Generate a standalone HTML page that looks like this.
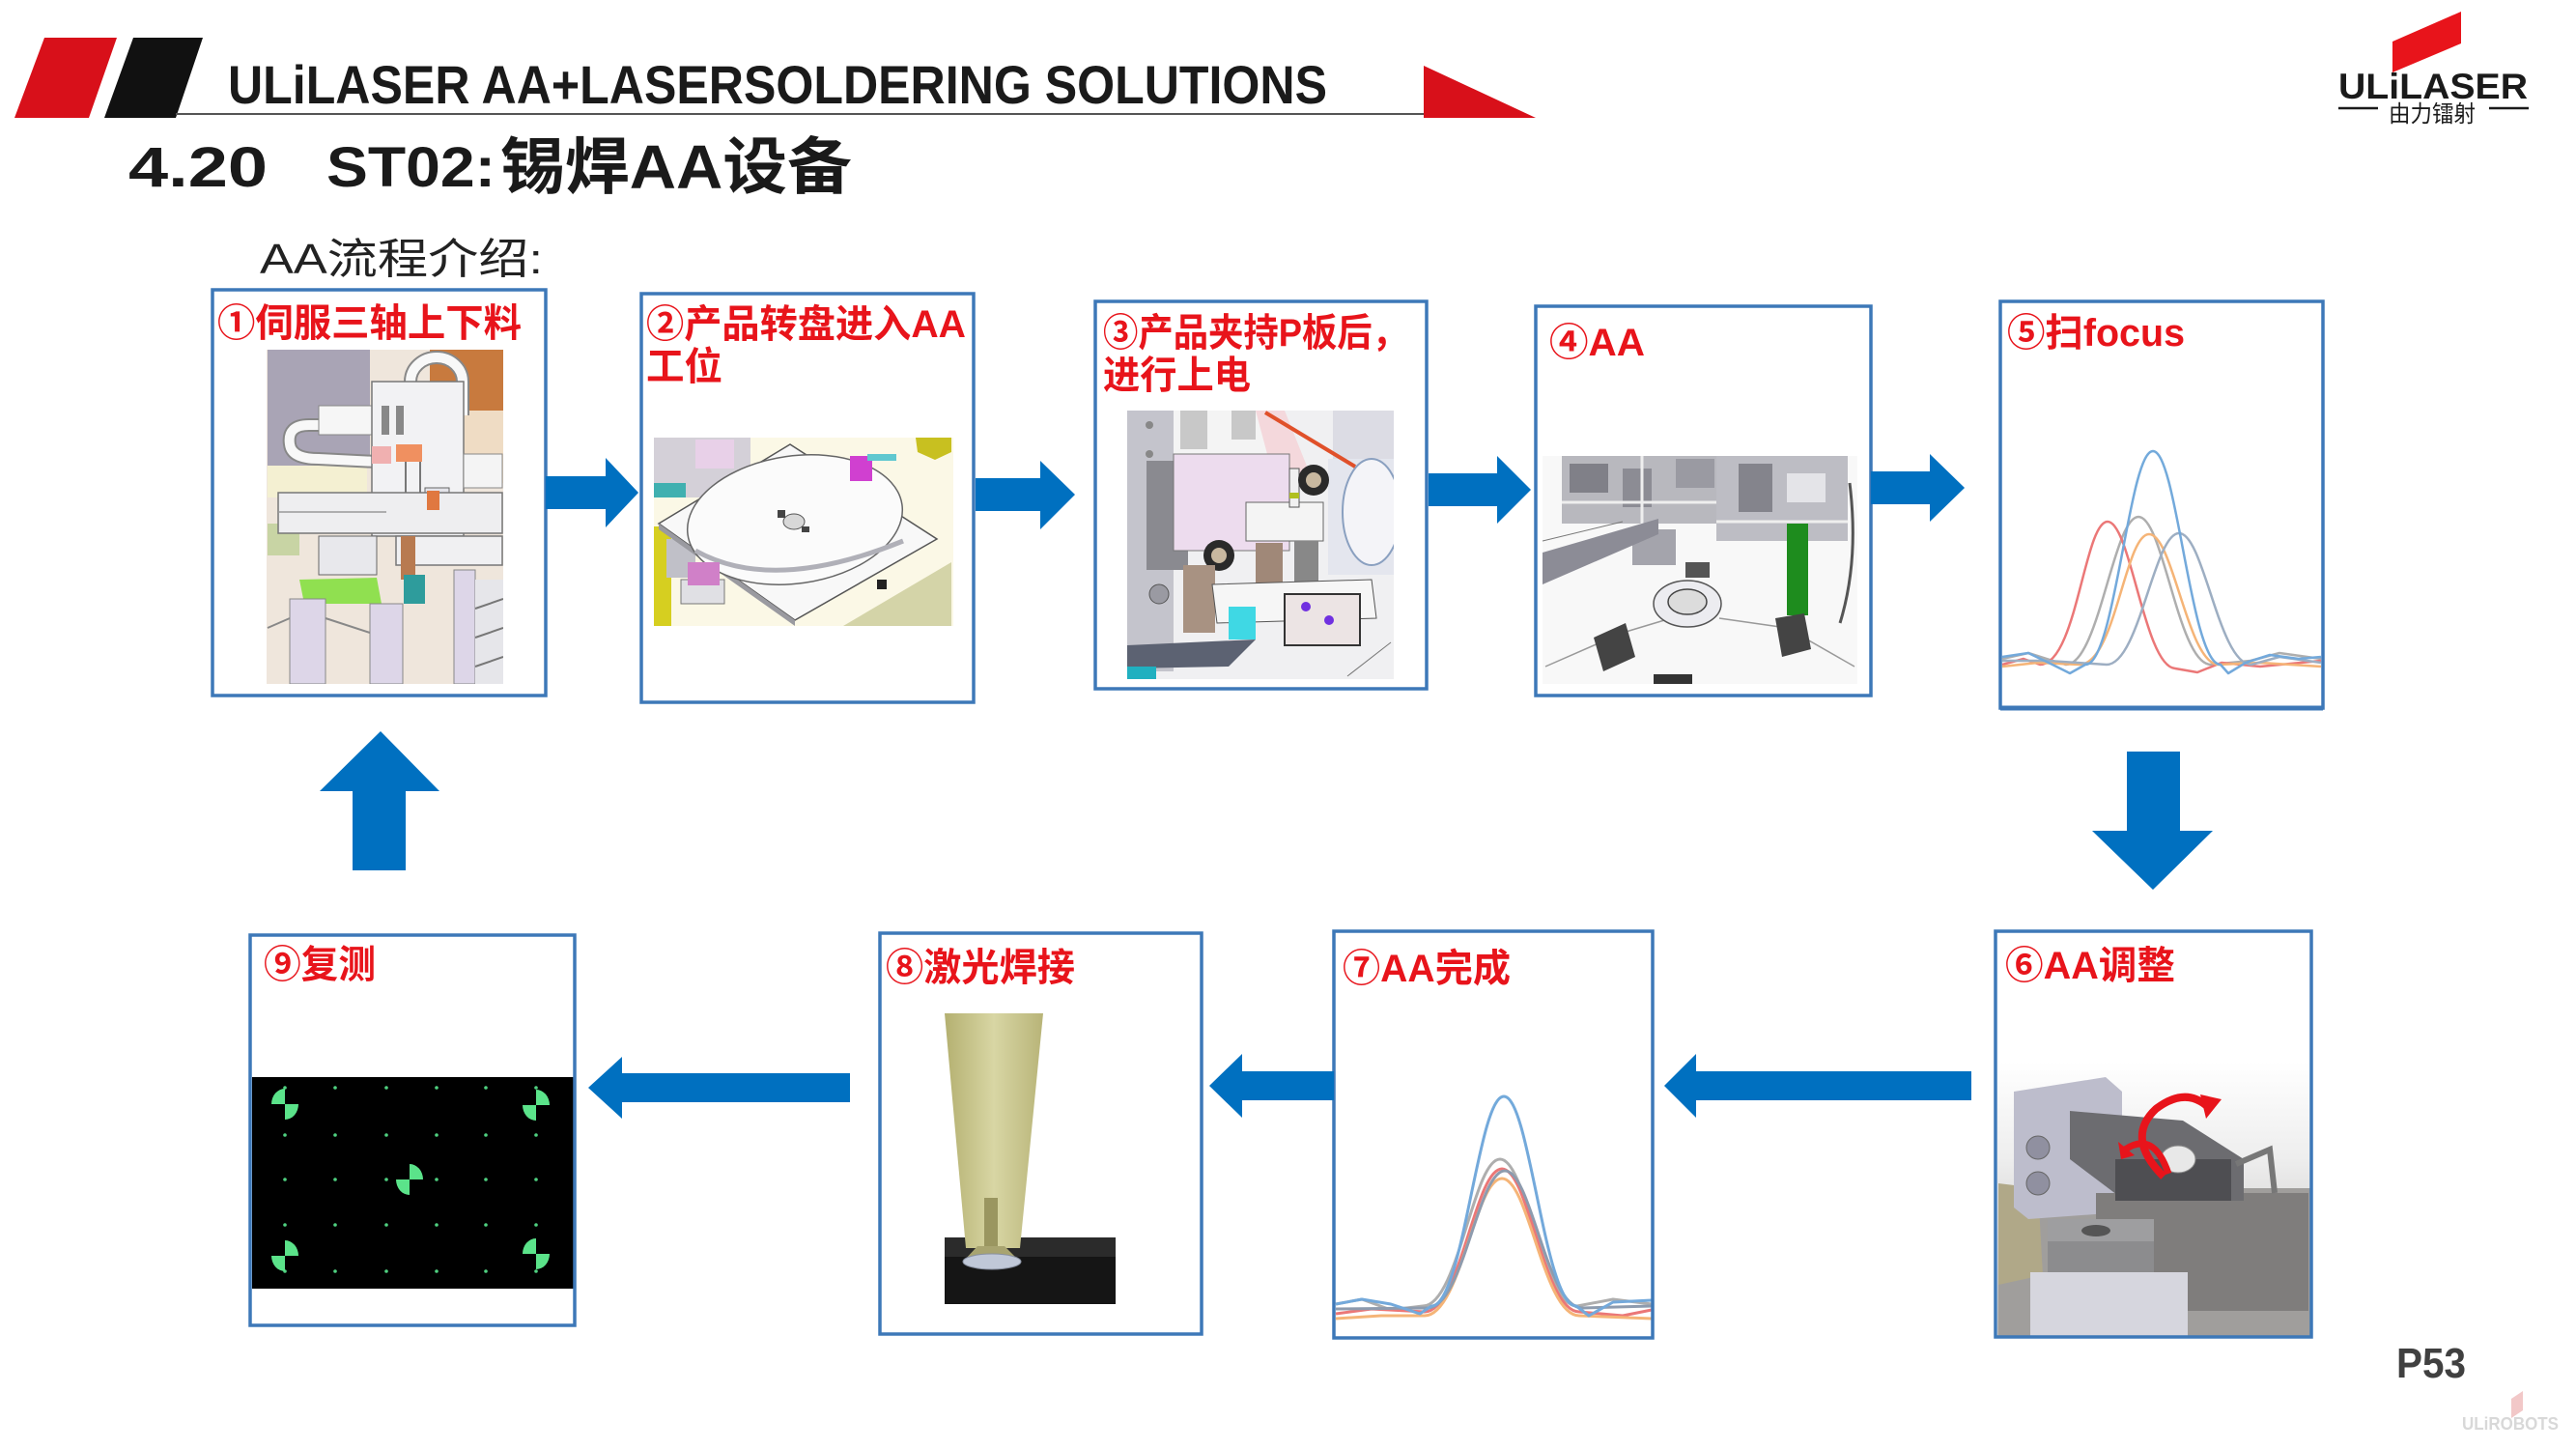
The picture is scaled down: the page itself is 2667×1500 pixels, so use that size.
<!DOCTYPE html>
<html><head><meta charset="utf-8"><style>
html,body{margin:0;padding:0;background:#fff;}
svg{display:block;}
text{font-family:"Liberation Sans","Noto Sans CJK SC",sans-serif;}
.lbl{fill:#e8141b;font-weight:bold;font-size:40px;}
</style></head><body>
<svg width="2667" height="1500" viewBox="0 0 2667 1500" xmlns="http://www.w3.org/2000/svg">
<defs>
<clipPath id="c1"><rect x="276" y="362" width="245" height="346"/></clipPath>
<clipPath id="c2"><rect x="677" y="453" width="310" height="195"/></clipPath>
<clipPath id="c3"><rect x="1167" y="425" width="276" height="278"/></clipPath>
<clipPath id="c4"><rect x="1597" y="472" width="326" height="236"/></clipPath>
<clipPath id="c6"><rect x="2068" y="1099" width="324" height="284"/></clipPath>
<linearGradient id="beam" x1="0" y1="0" x2="1" y2="0">
<stop offset="0" stop-color="#b4b070"/><stop offset="0.5" stop-color="#d8d6a4"/><stop offset="1" stop-color="#b8b478"/></linearGradient>
<linearGradient id="bg6" x1="0" y1="0" x2="0" y2="1">
<stop offset="0" stop-color="#ffffff"/><stop offset="0.35" stop-color="#eeeeee"/><stop offset="1" stop-color="#b8b6b4"/></linearGradient>
</defs>
<rect width="2667" height="1500" fill="#fff"/>

<!-- Header -->
<polygon points="46,39 121,39 92,122 15,122" fill="#d8101a"/>
<polygon points="138,39 210,39 182,122 108,122" fill="#111"/>
<line x1="182" y1="118" x2="1474" y2="118" stroke="#555" stroke-width="2"/>
<polygon points="1474,68 1474,122 1590,122" fill="#d8101a"/>
<text x="236" y="107" font-size="56" font-weight="bold" fill="#1a1a1a" textLength="1138" lengthAdjust="spacingAndGlyphs">ULiLASER AA+LASERSOLDERING SOLUTIONS</text>

<text x="133" y="193" font-size="58" font-weight="bold" fill="#1a1a1a" textLength="144" lengthAdjust="spacingAndGlyphs">4.20</text>
<text x="338" y="193" font-size="58" font-weight="bold" fill="#1a1a1a" textLength="175" lengthAdjust="spacingAndGlyphs">ST02:</text>
<text x="518" y="195" font-size="64" font-weight="bold" fill="#1a1a1a" textLength="364" lengthAdjust="spacingAndGlyphs">锡焊AA设备</text>
<text x="269" y="283" font-size="44" fill="#222" textLength="293" lengthAdjust="spacingAndGlyphs">AA流程介绍:</text>

<!-- Logo -->
<polygon points="2477,43 2548,12 2548,45 2477,75" fill="#e8141b"/>
<text x="2421" y="102" font-size="37" font-weight="bold" fill="#1a1a1a" textLength="196" lengthAdjust="spacingAndGlyphs">ULiLASER</text>
<line x1="2421" y1="112" x2="2462" y2="112" stroke="#1a1a1a" stroke-width="2.5"/>
<line x1="2577" y1="112" x2="2618" y2="112" stroke="#1a1a1a" stroke-width="2.5"/>
<text x="2473" y="126" font-size="24" fill="#1a1a1a" textLength="90" lengthAdjust="spacingAndGlyphs">由力镭射</text>

<!-- Box 1 image -->
<g clip-path="url(#c1)">
<rect x="276" y="362" width="245" height="346" fill="#efe6dc"/>
<rect x="277" y="362" width="106" height="120" fill="#a9a4b5"/>
<rect x="277" y="482" width="103" height="33" fill="#f4f0d2"/>
<rect x="277" y="542" width="33" height="33" fill="#c8d4a4"/>
<polygon points="445,362 521,362 521,425 480,430 445,400" fill="#c87a3e"/>
<rect x="480" y="425" width="41" height="75" fill="#efdcc4"/>
<path d="M425 440 L425 395 A27 25 0 0 1 479 395 L479 430" fill="none" stroke="#888" stroke-width="14"/>
<path d="M425 440 L425 395 A27 25 0 0 1 479 395 L479 430" fill="none" stroke="#f8f8f8" stroke-width="10"/>
<path d="M385 440 L320 440 Q297 440 300 460 Q302 475 330 475 L390 478" fill="none" stroke="#888" stroke-width="14"/>
<path d="M385 440 L320 440 Q297 440 300 460 Q302 475 330 475 L390 478" fill="none" stroke="#f8f8f8" stroke-width="10"/>
<rect x="330" y="420" width="55" height="30" fill="#f6f6f6" stroke="#888"/>
<rect x="385" y="395" width="95" height="160" fill="#f2f2f4" stroke="#777" stroke-width="1.5"/>
<rect x="395" y="420" width="8" height="30" fill="#888"/><rect x="410" y="420" width="8" height="30" fill="#888"/><rect x="440" y="505" width="25" height="30" fill="#e4e4ea" stroke="#666"/>
<line x1="420" y1="470" x2="420" y2="540" stroke="#777" stroke-width="2"/><line x1="435" y1="470" x2="435" y2="540" stroke="#777" stroke-width="2"/>
<rect x="480" y="470" width="40" height="35" fill="#f4f4f4" stroke="#888"/>
<rect x="288" y="510" width="232" height="42" fill="#eeeef0" stroke="#777" stroke-width="1.5"/>
<line x1="288" y1="530" x2="400" y2="530" stroke="#999" stroke-width="1.5"/>
<rect x="410" y="555" width="110" height="30" fill="#f0f0f2" stroke="#777" stroke-width="1.5"/>
<rect x="385" y="462" width="20" height="18" fill="#f0b0b0"/>
<rect x="410" y="460" width="27" height="18" fill="#f09060"/>
<rect x="442" y="508" width="13" height="20" fill="#e07840"/>
<rect x="415" y="555" width="15" height="45" fill="#b87a50"/>
<rect x="330" y="555" width="60" height="40" fill="#e8e8ec" stroke="#666"/>
<polygon points="310,600 390,598 395,625 315,625" fill="#90e050"/>
<rect x="418" y="595" width="22" height="30" fill="#2e9c9c"/>
<rect x="300" y="620" width="37" height="88" fill="#ddd6e8" stroke="#888"/>
<rect x="383" y="625" width="34" height="83" fill="#ddd6e8" stroke="#888"/>
<rect x="470" y="590" width="22" height="118" fill="#ddd6e8" stroke="#888"/>
<rect x="492" y="600" width="29" height="108" fill="#e6e6ea"/>
<line x1="492" y1="630" x2="521" y2="620" stroke="#777" stroke-width="2"/><line x1="492" y1="660" x2="521" y2="650" stroke="#777" stroke-width="2"/><line x1="492" y1="690" x2="521" y2="680" stroke="#777" stroke-width="2"/>
<line x1="337" y1="640" x2="383" y2="655" stroke="#888" stroke-width="2"/>
<line x1="277" y1="650" x2="300" y2="640" stroke="#888" stroke-width="2"/>
</g>

<!-- Box 2 image -->
<g clip-path="url(#c2)">
<rect x="677" y="453" width="310" height="195" fill="#fbf8e6"/>
<rect x="677" y="453" width="100" height="62" fill="#d4d0d8"/>
<rect x="720" y="455" width="40" height="30" fill="#e8d0e8"/>
<rect x="677" y="500" width="33" height="15" fill="#40b0b0"/>
<rect x="677" y="545" width="18" height="103" fill="#d6cf20"/>
<polygon points="948,453 985,453 985,468 968,476 950,468" fill="#c8c020"/>
<polygon points="873,648 985,582 985,648" fill="#d4d4a8"/>
<rect x="690" y="558" width="30" height="40" fill="#c0c0c8"/>
<rect x="705" y="600" width="45" height="25" fill="#e0e0e4" stroke="#777"/>
<polygon points="682,542 818,460 970,558 823,642" fill="#f8f8f8" stroke="#555" stroke-width="1.5"/>
<polygon points="682,542 823,642 823,648 682,548" fill="#9a9aa0"/>
<ellipse cx="823" cy="538" rx="112" ry="66" transform="rotate(-8 823 538)" fill="#fbfbfb" stroke="#666" stroke-width="1.5"/>
<path d="M720 570 Q800 615 935 560" fill="none" stroke="#b0b0b8" stroke-width="5"/>
<ellipse cx="822" cy="540" rx="11" ry="8" fill="#d8d8d8" stroke="#555"/>
<rect x="805" y="528" width="8" height="8" fill="#444"/><rect x="830" y="545" width="8" height="6" fill="#444"/>
<rect x="880" y="472" width="23" height="26" fill="#d040d0"/>
<rect x="898" y="470" width="30" height="7" fill="#60c8d0"/>
<rect x="712" y="582" width="33" height="24" fill="#d080c8"/>
<rect x="908" y="600" width="10" height="10" fill="#222"/>
</g>

<!-- Box 3 image -->
<g clip-path="url(#c3)">
<rect x="1167" y="425" width="276" height="278" fill="#f0f0f2"/>
<rect x="1167" y="425" width="48" height="270" fill="#c4c4cc"/>
<circle cx="1190" cy="440" r="4" fill="#888"/><circle cx="1190" cy="470" r="4" fill="#888"/><circle cx="1200" cy="570" r="10" fill="#9a9aa2" stroke="#555"/><circle cx="1200" cy="615" r="10" fill="#9a9aa2" stroke="#555"/>
<rect x="1215" y="425" width="105" height="45" fill="#f4f4f4"/>
<rect x="1222" y="425" width="28" height="40" fill="#c8c8c8"/><rect x="1275" y="425" width="25" height="30" fill="#c8c8c8"/>
<polygon points="1300,425 1330,425 1360,500 1320,500" fill="#f4d8dc"/>
<rect x="1187" y="477" width="43" height="113" fill="#8a8a90"/>
<rect x="1215" y="470" width="120" height="100" fill="#eddcee" stroke="#777"/>
<rect x="1380" y="425" width="63" height="50" fill="#dcdce4"/>
<rect x="1375" y="475" width="68" height="120" fill="#e4e6ee"/>
<ellipse cx="1420" cy="530" rx="30" ry="55" fill="#f4f4f8" stroke="#8aa0c0" stroke-width="2"/>
<line x1="1310" y1="427" x2="1403" y2="483" stroke="#e0502a" stroke-width="4"/>
<rect x="1290" y="520" width="80" height="40" fill="#f4f4f4" stroke="#666"/>
<rect x="1335" y="485" width="10" height="40" fill="#f0f0f0" stroke="#555"/><rect x="1335" y="510" width="10" height="6" fill="#b0c020"/>
<circle cx="1360" cy="497" r="16" fill="#2a2a2a"/><circle cx="1360" cy="497" r="8" fill="#c8b8a0"/>
<circle cx="1262" cy="575" r="16" fill="#2a2a2a"/><circle cx="1262" cy="575" r="8" fill="#c8b8a0"/>
<rect x="1225" y="585" width="33" height="70" fill="#a89282"/>
<rect x="1300" y="562" width="28" height="53" fill="#a08878"/>
<rect x="1340" y="560" width="25" height="50" fill="#888"/>
<polygon points="1255,605 1420,600 1425,640 1260,645" fill="#f6f6f6" stroke="#555"/>
<rect x="1272" y="628" width="28" height="34" fill="#3fd8e4"/>
<rect x="1330" y="615" width="78" height="53" fill="#ece4e4" stroke="#333" stroke-width="2"/>
<circle cx="1352" cy="628" r="5" fill="#7030e0"/><circle cx="1376" cy="642" r="5" fill="#7030e0"/>
<polygon points="1167,668 1300,662 1272,690 1167,692" fill="#5c6272"/>
<rect x="1167" y="690" width="30" height="13" fill="#20b0c0"/>
<line x1="1395" y1="700" x2="1440" y2="665" stroke="#777"/>
</g>

<!-- Box 4 image -->
<g clip-path="url(#c4)">
<rect x="1597" y="472" width="326" height="236" fill="#f8f8f8"/>
<rect x="1617" y="472" width="170" height="70" fill="#b8b8be"/>
<rect x="1625" y="480" width="40" height="30" fill="#808088"/><rect x="1680" y="485" width="30" height="40" fill="#8c8c94"/><rect x="1735" y="475" width="40" height="30" fill="#9a9aa2"/>
<line x1="1617" y1="520" x2="1787" y2="520" stroke="#eee" stroke-width="3"/><line x1="1700" y1="472" x2="1700" y2="542" stroke="#eee" stroke-width="3"/>
<rect x="1777" y="472" width="136" height="88" fill="#bdbdc4"/>
<rect x="1800" y="480" width="35" height="50" fill="#84848c"/><rect x="1850" y="490" width="40" height="30" fill="#e4e4e8"/>
<line x1="1777" y1="540" x2="1913" y2="540" stroke="#eee" stroke-width="3"/>
<rect x="1690" y="548" width="45" height="37" fill="#a4a4ac"/>
<polygon points="1597,572 1717,537 1717,553 1597,605" fill="#8c8c96"/>
<line x1="1597" y1="560" x2="1680" y2="540" stroke="#777"/>
<rect x="1745" y="582" width="25" height="16" fill="#555"/>
<rect x="1850" y="542" width="22" height="95" fill="#1e8c1e"/>
<path d="M1915 500 Q1925 580 1905 645" fill="none" stroke="#555" stroke-width="3"/>
<path d="M1600 690 L1680 655 L1730 640 M1780 640 L1850 650 L1920 690" fill="none" stroke="#999" stroke-width="1.5"/>
<ellipse cx="1747" cy="625" rx="35" ry="24" fill="#ececf0" stroke="#555" stroke-width="1.5"/>
<ellipse cx="1747" cy="623" rx="20" ry="13" fill="#dcdcdc" stroke="#444" stroke-width="1.5"/>
<polygon points="1650,660 1683,645 1693,680 1660,695" fill="#444"/>
<polygon points="1838,640 1868,635 1875,672 1845,680" fill="#444"/>
<rect x="1712" y="698" width="40" height="10" fill="#333"/>
</g>

<!-- Box 5 chart -->
<g fill="none" stroke-width="2.5" stroke-linejoin="round" opacity="0.85">
<path d="M2073 682 L2100 676 L2125 684 L2139 688 C2173 688 2188 535 2214 535 C2240 535 2255 688 2289 688 L2330 684 L2360 676 L2403 682" stroke="#a0a0a0"/>
<path d="M2073 688 L2095 682 L2112 688 C2150 688 2158 540 2182 540 C2206 540 2220 690 2252 692 L2275 696 L2300 686 L2340 690 L2403 684" stroke="#e86060"/>
<path d="M2073 690 L2110 686 L2153 688 C2190 688 2200 553 2225 553 C2250 553 2265 688 2297 688 L2340 686 L2403 690" stroke="#f4a860"/>
<path d="M2073 684 L2120 684 L2181 688 C2215 688 2230 552 2256 552 C2282 552 2297 688 2331 688 L2360 680 L2403 686" stroke="#8ca0b8"/>
<path d="M2073 680 L2100 676 L2125 688 L2143 697 L2159 688 C2190 688 2204 467 2229 467 C2254 467 2268 688 2299 688 L2307 697 L2325 686 L2350 678 L2380 682 L2403 680" stroke="#5b9bd5"/>
</g>

<!-- Box 6 image -->
<g clip-path="url(#c6)">
<rect x="2068" y="1099" width="324" height="284" fill="url(#bg6)"/>
<rect x="2069" y="1230" width="323" height="153" fill="#a09e9c"/>
<polygon points="2069,1225 2110,1230 2115,1320 2069,1330" fill="#b0a888"/>
<polygon points="2085,1130 2180,1115 2197,1130 2197,1255 2100,1262 2085,1250" fill="#bdbdcc"/>
<circle cx="2110" cy="1188" r="12" fill="#9090a0" stroke="#666"/><circle cx="2110" cy="1225" r="12" fill="#9090a0" stroke="#666"/>
<rect x="2170" y="1235" width="220" height="122" fill="#7f7d7c"/>
<polygon points="2143,1150 2260,1160 2323,1200 2323,1243 2200,1243 2143,1200" fill="#6c6c70"/>
<rect x="2190" y="1200" width="120" height="43" fill="#4e4e52"/>
<path d="M2315 1205 L2350 1190 L2355 1235" fill="none" stroke="#777" stroke-width="6"/>
<ellipse cx="2255" cy="1200" rx="18" ry="14" fill="#e8e8e8" stroke="#888"/>
<rect x="2120" y="1262" width="110" height="83" fill="#8c8c8e"/>
<rect x="2120" y="1262" width="110" height="23" fill="#9e9ea0"/>
<ellipse cx="2170" cy="1274" rx="15" ry="6" fill="#555"/>
<rect x="2102" y="1317" width="163" height="66" fill="#d6d6de"/>
<path d="M2240 1218 Q2200 1178 2232 1148 Q2262 1125 2285 1145" fill="none" stroke="#e8141b" stroke-width="8"/>
<polygon points="2278,1133 2300,1138 2284,1158" fill="#e8141b"/>
<path d="M2245 1215 Q2230 1170 2200 1190" fill="none" stroke="#e8141b" stroke-width="7"/>
<polygon points="2193,1182 2210,1196 2196,1200" fill="#e8141b"/>
</g>

<!-- Box 7 chart -->
<g fill="none" stroke-width="3" stroke-linejoin="round" opacity="0.85">
<path d="M1383 1350 L1410 1345 L1440 1356 L1473 1352 C1510 1352 1525 1200 1553 1200 C1581 1200 1596 1352 1633 1352 L1670 1345 L1710 1350" stroke="#a0a0a0"/>
<path d="M1383 1360 L1420 1355 L1475 1358 C1512 1358 1527 1210 1555 1210 C1583 1210 1598 1358 1635 1358 L1680 1362 L1710 1356" stroke="#e86060"/>
<path d="M1383 1365 L1430 1362 L1475 1362 C1512 1362 1527 1220 1555 1220 C1583 1220 1598 1362 1635 1362 L1710 1365" stroke="#f4a860"/>
<path d="M1383 1355 L1478 1354 C1515 1354 1530 1212 1558 1212 C1586 1212 1601 1354 1638 1354 L1710 1352" stroke="#7a8aa0"/>
<path d="M1383 1350 L1410 1345 L1440 1350 L1470 1360 L1482 1352 C1515 1352 1530 1135 1557 1135 C1584 1135 1599 1352 1632 1352 L1645 1362 L1670 1348 L1710 1346" stroke="#5b9bd5"/>
</g>

<!-- Box 8 image -->
<rect x="978" y="1281" width="177" height="69" fill="#151515"/>
<rect x="978" y="1281" width="177" height="20" fill="#2b2b2b"/>
<polygon points="978,1049 1080,1049 1056,1292 1000,1292" fill="url(#beam)"/>
<rect x="1019" y="1240" width="14" height="55" fill="#9a9660"/>
<polygon points="1012,1290 1040,1290 1055,1305 998,1305" fill="#a8a470"/>
<ellipse cx="1027" cy="1306" rx="30" ry="8" fill="#c0c8d8" stroke="#8890a0"/>

<!-- Box 9 image -->
<rect x="261" y="1115" width="333" height="219" fill="#000"/>
<g fill="#4fd080">
<circle cx="295" cy="1126" r="1.8"/><circle cx="347" cy="1126" r="1.8"/><circle cx="400" cy="1126" r="1.8"/><circle cx="452" cy="1126" r="1.8"/><circle cx="503" cy="1126" r="1.8"/><circle cx="555" cy="1126" r="1.8"/>
<circle cx="295" cy="1175" r="1.8"/><circle cx="347" cy="1175" r="1.8"/><circle cx="400" cy="1175" r="1.8"/><circle cx="452" cy="1175" r="1.8"/><circle cx="503" cy="1175" r="1.8"/><circle cx="555" cy="1175" r="1.8"/>
<circle cx="295" cy="1221" r="1.8"/><circle cx="347" cy="1221" r="1.8"/><circle cx="400" cy="1221" r="1.8"/><circle cx="452" cy="1221" r="1.8"/><circle cx="503" cy="1221" r="1.8"/><circle cx="555" cy="1221" r="1.8"/>
<circle cx="295" cy="1268" r="1.8"/><circle cx="347" cy="1268" r="1.8"/><circle cx="400" cy="1268" r="1.8"/><circle cx="452" cy="1268" r="1.8"/><circle cx="503" cy="1268" r="1.8"/><circle cx="555" cy="1268" r="1.8"/>
<circle cx="295" cy="1316" r="1.8"/><circle cx="347" cy="1316" r="1.8"/><circle cx="400" cy="1316" r="1.8"/><circle cx="452" cy="1316" r="1.8"/><circle cx="503" cy="1316" r="1.8"/><circle cx="555" cy="1316" r="1.8"/>
</g>
<g fill="#5be38a">
<path d="M295 1143 L281 1143 A14 16 0 0 1 295 1127 Z M295 1143 L309 1143 A14 16 0 0 1 295 1159 Z"/>
<path d="M555 1144 L555 1128 A14 16 0 0 1 569 1144 Z M555 1144 L555 1160 A14 16 0 0 1 541 1144 Z"/>
<path d="M424 1221 L424 1205 A14 16 0 0 1 438 1221 Z M424 1221 L424 1237 A14 16 0 0 1 410 1221 Z"/>
<path d="M295 1300 L295 1284 A14 16 0 0 1 309 1300 Z M295 1300 L295 1316 A14 16 0 0 1 281 1300 Z"/>
<path d="M555 1298 L541 1298 A14 16 0 0 1 555 1282 Z M555 1298 L569 1298 A14 16 0 0 1 555 1314 Z"/>
</g>

<!-- Boxes -->
<g fill="none" stroke="#3d78b8" stroke-width="3.5">
<rect x="220" y="300" width="345" height="420"/>
<rect x="664" y="304" width="344" height="423"/>
<rect x="1134" y="312" width="343" height="401"/>
<rect x="1590" y="317" width="347" height="403"/>
<rect x="2071" y="312" width="334" height="421"/>
<rect x="2066" y="964" width="327" height="420"/>
<rect x="1381" y="964" width="330" height="421"/>
<rect x="911" y="966" width="333" height="415"/>
<rect x="259" y="968" width="336" height="404"/>
</g>
<line x1="2071" y1="733" x2="2405" y2="733" stroke="#3d78b8" stroke-width="5"/>

<!-- Labels -->
<text class="lbl" x="225" y="348" textLength="315" lengthAdjust="spacingAndGlyphs">①伺服三轴上下料</text>
<text class="lbl" x="669" y="349" textLength="331" lengthAdjust="spacingAndGlyphs">②产品转盘进入AA</text>
<text class="lbl" x="669" y="393" textLength="79" lengthAdjust="spacingAndGlyphs">工位</text>
<text class="lbl" x="1142" y="358" textLength="315" lengthAdjust="spacingAndGlyphs">③产品夹持P板后，</text>
<text class="lbl" x="1142" y="402" textLength="153" lengthAdjust="spacingAndGlyphs">进行上电</text>
<text class="lbl" x="1604" y="368" textLength="99" lengthAdjust="spacingAndGlyphs">④AA</text>
<text class="lbl" x="2078" y="358" textLength="184" lengthAdjust="spacingAndGlyphs">⑤扫focus</text>
<text class="lbl" x="2076" y="1013" textLength="176" lengthAdjust="spacingAndGlyphs">⑥AA调整</text>
<text class="lbl" x="1390" y="1016" textLength="174" lengthAdjust="spacingAndGlyphs">⑦AA完成</text>
<text class="lbl" x="917" y="1015" textLength="196" lengthAdjust="spacingAndGlyphs">⑧激光焊接</text>
<text class="lbl" x="273" y="1012" textLength="116" lengthAdjust="spacingAndGlyphs">⑨复测</text>

<!-- Arrows -->
<g fill="#0070c0">
<polygon points="565,493 627,493 627,474 661,510 627,546 627,527 565,527"/>
<polygon points="1010,495 1077,495 1077,477 1113,512 1077,548 1077,529 1010,529"/>
<polygon points="1479,490 1550,490 1550,472 1585,507 1550,542 1550,524 1479,524"/>
<polygon points="1937,488 1998,488 1998,470 2034,505 1998,540 1998,522 1937,522"/>
<polygon points="2202,778 2257,778 2257,860 2291,860 2229,921 2166,860 2202,860"/>
<polygon points="394,757 455,819 420,819 420,901 365,901 365,819 331,819"/>
<polygon points="1723,1124 1756,1091 1756,1109 2041,1109 2041,1139 1756,1139 1756,1157"/>
<polygon points="1252,1124 1286,1091 1286,1109 1381,1109 1381,1139 1286,1139 1286,1157"/>
<polygon points="609,1126 644,1094 644,1111 880,1111 880,1141 644,1141 644,1158"/>
</g>

<!-- Footer -->
<text x="2481" y="1426" font-size="44" font-weight="bold" fill="#404040" textLength="72" lengthAdjust="spacingAndGlyphs">P53</text>
<polygon points="2600,1448 2612,1440 2612,1460 2600,1468" fill="#f2c8c8"/>
<text x="2549" y="1480" font-size="18" font-weight="bold" fill="#d8d8d8" textLength="100" lengthAdjust="spacingAndGlyphs">ULiROBOTS</text>
</svg>
</body></html>
